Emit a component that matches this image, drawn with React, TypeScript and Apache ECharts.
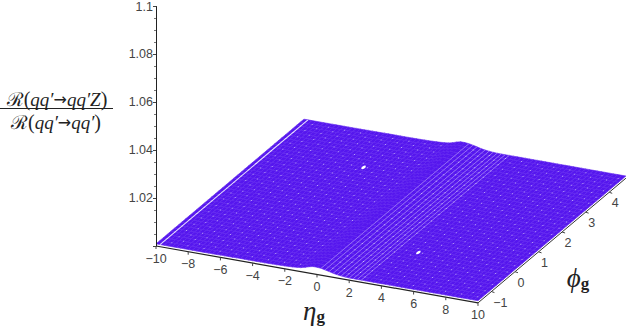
import React, { useEffect, useRef } from "react";
import * as echarts from "echarts";

const etas = [-10,-9.75,-9.5,-9.25,-9,-8.75,-8.5,-8.25,-8,-7.75,-7.5,-7.25,-7,-6.75,-6.5,-6.25,-6,-5.75,-5.5,-5.25,-5,-4.75,-4.5,-4.25,-4,-3.75,-3.5,-3.25,-3,-2.75,-2.5,-2.25,-2,-1.75,-1.5,-1.25,-1,-0.75,-0.5,-0.25,0,0.25,0.5,0.75,1,1.25,1.5,1.75,2,2.25,2.5,2.75,3,3.25,3.5,3.75,4,4.25,4.5,4.75,5,5.25,5.5,5.75,6,6.25,6.5,6.75,7,7.25,7.5,7.75,8,8.25,8.5,8.75,9,9.25,9.5,9.75,10];
const heights = [0.0009,0.0009,0.0009,0.0009,0.0009,0.0009,0.0009,0.0009,0.0009,0.0009,0.0009,0.0009,0.0009,0.0009,0.0009,0.0009,0.00095,0.00095,0.00095,0.00095,0.001,0.001,0.001,0.001,0.001,0.001,0.001,0.001,0.00104,0.00106,0.00109,0.00113,0.00117,0.00124,0.00133,0.00148,0.00167,0.00208,0.00263,0.003,0.003,0.00283,0.0025,0.0021,0.00167,0.00138,0.00117,0.001,0.00092,0.0009,0.0009,0.0009,0.0009,0.0009,0.0009,0.0009,0.0009,0.0009,0.0009,0.0009,0.0009,0.0009,0.0009,0.0009,0.0009,0.0009,0.0009,0.0009,0.0009,0.0009,0.0009,0.0009,0.0009,0.0009,0.0009,0.0009,0.0009,0.0009,0.0009,0.0009,0.0009];
const phis = [-1.57,-1.41,-1.26,-1.1,-0.94,-0.79,-0.63,-0.47,-0.31,-0.16,0,0.16,0.31,0.47,0.63,0.79,0.94,1.1,1.26,1.41,1.57,1.73,1.88,2.04,2.2,2.36,2.51,2.67,2.83,2.98,3.14,3.3,3.46,3.61,3.77,3.93,4.08,4.24,4.4,4.55,4.71];
const etaTicks = [-10,-8,-6,-4,-2,0,2,4,6,8,10];
const phiTicks = [-1,0,1,2,3,4];
const zTicks = [1.02,1.04,1.06,1.08,1.1];
const holes = [[4,0],[-4,3.14]];

const FILL = "#5516ee";
const proj = (eta: number, phi: number, z: number) => [
  eta + 1.463 * (phi + 1.57),
  z - 0.0011875 * (eta + 10) + 0.00829 * (phi + 1.57),
];

const cells: number[][] = [];
for (let i = 0; i < etas.length - 1; i++) for (let j = 0; j < phis.length - 1; j++) cells.push([i, j]);
const specks: number[][] = [];
for (let i = 1; i < etas.length - 1; i++) for (let j = 1 + (i % 4 === 1 ? 1 : 0); j < phis.length - 1; j += 2) if (i % 2 === 1) specks.push([i, j]);
const sideLines = etas.map((_, i) => i);
const rowLines = phis.map((_, j) => j);

const stripeOpacity = (eta: number) => {
  if (eta === -9.75) return 0.85;
  if (eta > 0.2 && eta < 2.8) return 0.5;
  if (eta > -0.9 && eta <= 0.2) return 0;
  return 0.08;
};

const richMath = {
  r: { font: "19px 'DejaVu Serif'", fill: "#222" },
  p: { font: "20px 'Liberation Serif'", fill: "#222" },
  q: { font: "italic 19px 'Liberation Serif'", fill: "#222" },
  a: { font: "16px 'DejaVu Sans'", fill: "#222" },
};

export default function App() {
  const ref = useRef<HTMLDivElement>(null);
  useEffect(() => {
    document.body.style.margin = "0";
    const chart = echarts.init(ref.current!, undefined, { renderer: "svg" });
    chart.setOption({
      animation: false,
      backgroundColor: "#fff",
      grid: { left: 156, right: 0, top: 6, bottom: 81 },
      xAxis: { type: "value", min: -10, max: 19.3168, show: false },
      yAxis: {
        type: "value", min: 1, max: 1.1, interval: 0.02, z: 5,
        axisLine: { show: true, onZero: false, lineStyle: { color: "#222", width: 1 } },
        axisTick: { show: true, length: 3, lineStyle: { color: "#444" } },
        minorTick: { show: true, splitNumber: 4, length: 2, lineStyle: { color: "#777" } },
        splitLine: { show: false }, minorSplitLine: { show: false },
        axisLabel: {
          color: "#444", fontFamily: "Liberation Sans", fontSize: 12.5, margin: 3,
          formatter: (v: number) => (zTicks.some((t) => Math.abs(t - v) < 1e-6) ? String(+v.toFixed(2)) : ""),
        },
      },
      graphic: [
        { type: "text", x: 57, y: 99, style: { text: "{r|ℛ}{p|(}{q|qq′}{a|→}{q|qq′Z}{p|)}", rich: richMath, textAlign: "center", textVerticalAlign: "middle" } },
        { type: "line", shape: { x1: 0, y1: 108.5, x2: 113, y2: 108.5 }, style: { stroke: "#222", lineWidth: 1 } },
        { type: "text", x: 56, y: 122, style: { text: "{r|ℛ}{p|(}{q|qq′}{a|→}{q|qq′}{p|)}", rich: richMath, textAlign: "center", textVerticalAlign: "middle" } },
      ],
      series: [
        {
          type: "custom", coordinateSystem: "cartesian2d", silent: true, z: 2, clip: false,
          data: cells,
          renderItem: (p: any, api: any) => {
            const [i, j] = cells[p.dataIndex];
            const pts = [
              [etas[i], phis[j], 1 + heights[i]], [etas[i + 1], phis[j], 1 + heights[i + 1]],
              [etas[i + 1], phis[j + 1], 1 + heights[i + 1]], [etas[i], phis[j + 1], 1 + heights[i]],
            ].map(([a, b, c]) => api.coord(proj(a, b, c)));
            return { type: "polygon", shape: { points: pts }, style: { fill: FILL, stroke: FILL, lineWidth: 0.6 } };
          },
        },
        {
          type: "custom", coordinateSystem: "cartesian2d", silent: true, z: 3, clip: false,
          data: sideLines,
          renderItem: (p: any, api: any) => {
            const i = sideLines[p.dataIndex];
            const op = stripeOpacity(etas[i]);
            if (!op) return null;
            const a = api.coord(proj(etas[i], phis[0], 1 + heights[i]));
            const b = api.coord(proj(etas[i], phis[phis.length - 1], 1 + heights[i]));
            return { type: "line", shape: { x1: a[0], y1: a[1], x2: b[0], y2: b[1] }, style: { stroke: "#fff", opacity: op, lineWidth: etas[i] === -9.75 ? 1.1 : 0.7 } };
          },
        },
        {
          type: "custom", coordinateSystem: "cartesian2d", silent: true, z: 3, clip: false,
          data: rowLines,
          renderItem: (p: any, api: any) => {
            const j = rowLines[p.dataIndex];
            const pts = etas.map((e, i) => api.coord(proj(e, phis[j], 1 + heights[i])));
            return { type: "polyline", shape: { points: pts }, style: { stroke: "#fff", opacity: 0.07, lineWidth: 0.7, fill: "none" } };
          },
        },
        {
          type: "custom", coordinateSystem: "cartesian2d", silent: true, z: 3, clip: false,
          data: specks,
          renderItem: (p: any, api: any) => {
            const [i, j] = specks[p.dataIndex];
            if (etas[i] > -0.9 && etas[i] < 0.3) return null;
            const c = api.coord(proj(etas[i], phis[j], 1 + heights[i]));
            return { type: "rect", shape: { x: c[0] - 0.5, y: c[1] - 0.5, width: 1, height: 1 }, style: { fill: "#fff", opacity: 0.55 } };
          },
        },
        {
          type: "custom", coordinateSystem: "cartesian2d", silent: true, z: 4, clip: false,
          data: holes,
          renderItem: (p: any, api: any) => {
            const [e, f] = holes[p.dataIndex];
            const c = api.coord(proj(e, f, 1.0009));
            return { type: "ellipse", x: c[0], y: c[1], rotation: 0.6, shape: { cx: 0, cy: 0, rx: 2.6, ry: 1.3 }, style: { fill: "#fff" } };
          },
        },
        {
          type: "custom", coordinateSystem: "cartesian2d", silent: true, z: 5, clip: false,
          data: etaTicks,
          renderItem: (p: any, api: any) => {
            const e = etaTicks[p.dataIndex];
            const a = api.coord(proj(e, -1.57, 1));
            const b = api.coord(proj(-10, -1.57, 1));
            const c = api.coord(proj(10, -1.57, 1));
            const children: any[] = [
              { type: "line", shape: { x1: a[0], y1: a[1], x2: a[0], y2: a[1] + 3 }, style: { stroke: "#444", lineWidth: 1 } },
              { type: "text", x: a[0], y: a[1] + 12.5, style: { text: String(e).replace("-", "−"), fill: "#444", font: "12.5px 'Liberation Sans'", textAlign: "center", textVerticalAlign: "middle" } },
            ];
            if (p.dataIndex === 0) children.push({ type: "line", shape: { x1: b[0], y1: b[1], x2: c[0], y2: c[1] }, style: { stroke: "#222", lineWidth: 1.2 } });
            return { type: "group", children };
          },
        },
        {
          type: "custom", coordinateSystem: "cartesian2d", silent: true, z: 5, clip: false,
          data: phiTicks,
          renderItem: (p: any, api: any) => {
            const f = phiTicks[p.dataIndex];
            const a = api.coord(proj(10, f, 1));
            const b = api.coord(proj(10, -1.57, 1));
            const c = api.coord(proj(10, 4.71, 1));
            const children: any[] = [
              { type: "line", shape: { x1: a[0], y1: a[1], x2: a[0] + 3, y2: a[1] + 1 }, style: { stroke: "#444", lineWidth: 1 } },
              { type: "text", x: a[0] + (f < 0 ? 9 : 6), y: a[1] + 11, style: { text: String(f).replace("-", "−"), fill: "#444", font: "12.5px 'Liberation Sans'", textAlign: "center", textVerticalAlign: "middle" } },
            ];
            if (p.dataIndex === 0) children.push({ type: "line", shape: { x1: b[0], y1: b[1], x2: c[0], y2: c[1] }, style: { stroke: "#333", lineWidth: 1 } });
            return { type: "group", children };
          },
        },
        {
          type: "custom", coordinateSystem: "cartesian2d", silent: true, z: 5, clip: false,
          data: [0],
          renderItem: (p: any, api: any) => {
            const a = api.coord(proj(0, -1.57, 1));
            const b = api.coord(proj(10, 2.2, 1));
            const rich = { g: { font: "bold 17px 'Liberation Serif'", fill: "#222", verticalAlign: "bottom" }, s: { font: "italic 27px 'Liberation Serif'", fill: "#222" } };
            return {
              type: "group",
              children: [
                { type: "text", x: a[0] - 14, y: a[1] + 37, style: { text: "{s|η}{g|g}", rich, textVerticalAlign: "middle" } },
                { type: "text", x: b[0], y: b[1] + 50, style: { text: "{s|ϕ}{g|g}", rich, textVerticalAlign: "middle" } },
              ],
            };
          },
        },
      ],
    });
    return () => chart.dispose();
  }, []);
  return <div ref={ref} style={{ width: 628, height: 327 }} />;
}
